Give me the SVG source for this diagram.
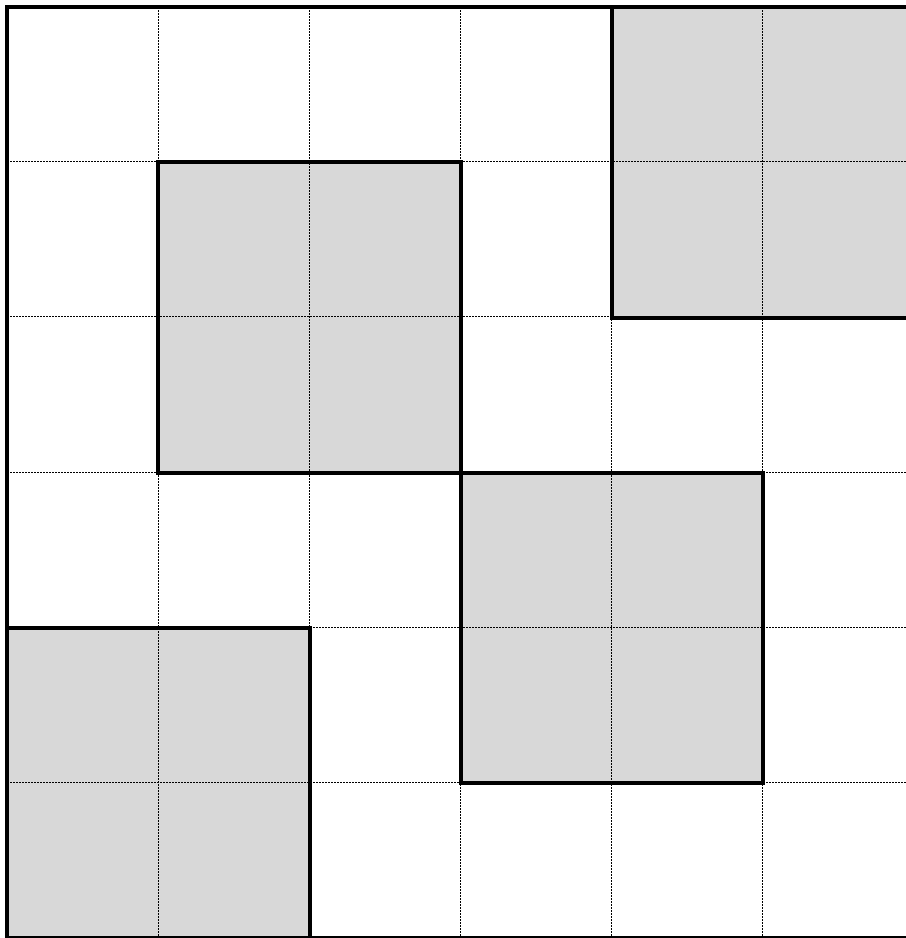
<svg xmlns="http://www.w3.org/2000/svg" width="906" height="938" viewBox="0 0 906 938">
<style>
.bg{fill:#ffffff}
.sq{fill:#d8d8d8;stroke:none}
.grid line{stroke:#000000;stroke-width:1;stroke-dasharray:2,1;fill:none;shape-rendering:crispEdges}
.edge{fill:none;stroke:#000000;stroke-width:4;stroke-linejoin:miter}
</style>
<rect class="bg" x="0" y="0" width="906" height="938"/>
<g id="fills">
<rect class="sq" x="612" y="7" width="302" height="311"/>
<rect class="sq" x="158" y="162" width="303" height="311"/>
<rect class="sq" x="461" y="473" width="302" height="310"/>
<rect class="sq" x="7" y="628" width="303" height="310"/>
</g>
<g id="grid" class="grid">
<line x1="158.5" y1="7" x2="158.5" y2="938"/>
<line x1="309.5" y1="7" x2="309.5" y2="938"/>
<line x1="460.5" y1="7" x2="460.5" y2="938"/>
<line x1="611.5" y1="7" x2="611.5" y2="938"/>
<line x1="762.5" y1="7" x2="762.5" y2="938"/>
<line x1="7" y1="161.5" x2="914" y2="161.5"/>
<line x1="7" y1="316.5" x2="914" y2="316.5"/>
<line x1="7" y1="472.5" x2="914" y2="472.5"/>
<line x1="7" y1="627.5" x2="914" y2="627.5"/>
<line x1="7" y1="782.5" x2="914" y2="782.5"/>
</g>
<g id="squares">
<rect id="sq1" class="edge" x="612" y="7" width="302" height="311"/>
<rect id="sq2" class="edge" x="158" y="162" width="303" height="311"/>
<rect id="sq3" class="edge" x="461" y="473" width="302" height="310"/>
<rect id="sq4" class="edge" x="7" y="628" width="303" height="310"/>
</g>
<rect id="border" class="edge" x="7" y="7" width="907" height="931"/>
</svg>
